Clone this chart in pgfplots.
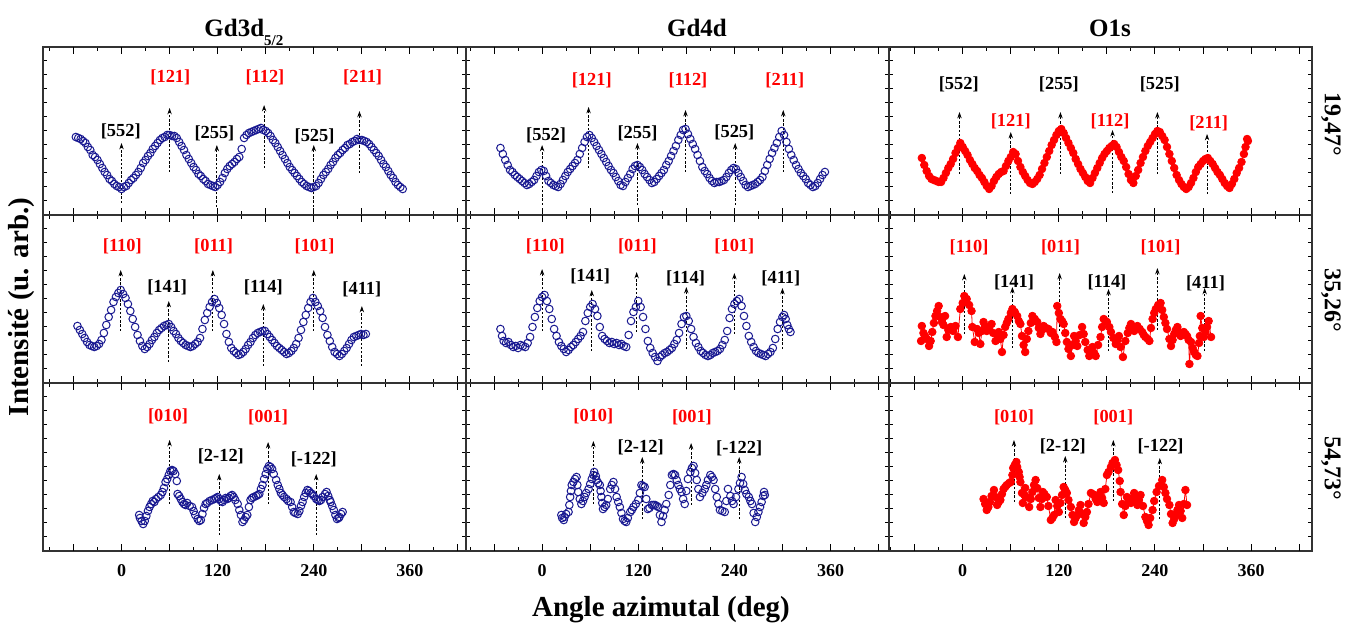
\documentclass[border=0pt]{standalone}
\usepackage{fontspec}
\setmainfont{Liberation Serif}
\usepackage{pgfplots}
\pgfplotsset{compat=1.18}
\usepackage{pgfplotstable}
\usetikzlibrary{arrows.meta}

\definecolor{bluemk}{RGB}{25,25,145}
\definecolor{redmk}{RGB}{255,0,0}

% ---------------- data (angle in deg, intensity in arbitrary units) -------------
\pgfplotstableread{
x y
-57 78
-54 77
-51 76
-48 74
-45 72
-42 68
-39 65
-36 60
-33 58
-30 55
-27 51
-24 47
-21 43
-18 40
-15 36
-12 34
-9 31
-6 29
-3 28
0 26
3 28
6 29
9 32
12 35
15 37
18 40
21 43
24 47
27 52
30 55
33 59
36 62
39 66
42 69
45 72
48 75
51 77
54 78
57 80
60 80
63 79
66 79
69 77
72 73
75 69
78 65
81 60
84 56
87 52
90 48
93 45
96 41
99 39
102 36
105 34
108 31
111 30
114 29
117 28
120 30
123 33
126 37
129 42
132 46
135 49
138 51
141 53
144 56
147 58
150 66
153 77
156 80
159 82
162 83
165 84
168 85
171 86
174 87
177 85
180 84
183 82
186 79
189 75
192 72
195 68
198 64
201 60
204 56
207 52
210 48
213 45
216 42
219 39
222 36
225 33
228 31
231 29
234 28
237 27
240 28
243 29
246 32
249 36
252 40
255 43
258 46
261 50
264 53
267 57
270 60
273 62
276 65
279 67
282 70
285 71
288 73
291 74
294 76
297 75
300 75
303 74
306 73
309 71
312 68
315 65
318 62
321 59
324 55
327 51
330 48
333 44
336 40
339 37
342 33
345 30
348 28
351 26
}\tAa

\pgfplotstableread{
x y
-52 67
-49 61
-46 55
-43 50
-40 45
-37 43
-34 40
-31 38
-28 36
-25 34
-22 32
-19 30
-16 31
-13 33
-10 35
-7 39
-4 43
-1 45
2 44
5 39
8 34
11 32
14 30
17 29
20 28
23 31
26 35
29 39
32 43
35 46
38 49
41 52
44 55
47 61
50 67
53 73
56 78
59 80
62 77
65 73
68 69
71 65
74 61
77 57
80 53
83 49
86 45
89 42
92 38
95 34
98 30
101 29
104 33
107 37
110 41
113 46
116 49
119 50
122 48
125 45
128 41
131 38
134 35
137 32
140 33
143 36
146 39
149 42
152 45
155 50
158 54
161 59
164 64
167 69
170 75
173 80
176 85
179 86
182 81
185 76
188 71
191 66
194 60
197 54
200 48
203 44
206 41
209 37
212 34
215 32
218 33
221 33
224 34
227 35
230 38
233 42
236 45
239 47
242 46
245 42
248 38
251 34
254 30
257 28
260 29
263 30
266 31
269 33
272 35
275 38
278 44
281 50
284 56
287 62
290 67
293 72
296 78
299 84
302 80
305 73
308 66
311 60
314 55
317 50
320 46
323 42
326 39
329 36
332 32
335 30
338 28
341 29
344 32
347 36
350 40
353 43
}\tBa

\pgfplotstableread{
x y
-51 57
-48 50
-45 44
-42 39
-39 36
-36 35
-33 34
-30 33
-27 33
-24 37
-21 42
-18 47
-15 51
-12 56
-9 62
-6 67
-3 72
0 68
3 64
6 60
9 55
12 51
15 47
18 44
21 40
24 37
27 33
30 29
33 26
36 29
39 34
42 38
45 41
48 43
51 44
54 49
57 54
60 58
63 63
66 61
69 54
72 48
75 43
78 39
81 35
84 32
87 31
90 33
93 36
96 40
99 46
102 52
105 58
108 64
111 70
114 75
117 80
120 84
123 86
126 82
129 77
132 72
135 67
138 62
141 56
144 51
147 46
150 42
153 38
156 34
159 32
162 37
165 42
168 47
171 52
174 57
177 61
180 64
183 67
186 69
189 71
192 68
195 63
198 58
201 54
204 48
207 41
210 35
213 32
216 39
219 45
222 52
225 58
228 64
231 69
234 73
237 77
240 81
243 84
246 83
249 79
252 75
255 68
258 61
261 54
264 47
267 40
270 35
273 31
276 28
279 26
282 28
285 32
288 37
291 43
294 48
297 51
300 54
303 56
306 57
309 54
312 51
315 47
318 43
321 40
324 36
327 32
330 29
333 27
336 31
339 36
342 42
345 47
348 53
351 61
353 68
355 76
356 74
}\tCa

\pgfplotstableread{
x y
-55 57
-52 53
-49 49
-46 45
-43 41
-40 38
-37 37
-34 36
-31 37
-28 39
-25 43
-22 50
-19 58
-16 66
-13 73
-10 81
-7 86
-4 90
-1 93
2 89
5 85
8 79
11 72
14 64
17 56
20 48
23 42
26 37
29 34
32 36
35 39
38 43
41 46
44 50
47 53
50 55
53 57
56 58
59 59
62 56
65 52
68 49
71 45
74 42
77 40
80 38
83 37
86 36
89 37
92 39
95 41
98 45
101 54
104 63
107 70
110 76
113 81
116 84
119 80
122 75
125 68
128 59
131 49
134 41
137 35
140 32
143 30
146 28
149 29
152 31
155 34
158 38
161 41
164 45
167 48
170 50
173 51
176 52
179 52
182 49
185 46
188 43
191 40
194 37
197 35
200 33
203 31
206 29
209 30
212 32
215 35
218 39
221 45
224 53
227 61
230 68
233 75
236 81
239 85
242 81
245 77
248 72
251 65
254 56
257 48
260 42
263 36
266 31
269 29
272 27
275 29
278 32
281 35
284 39
287 43
290 46
293 47
296 48
299 49
302 48
305 49
}\tAb

\pgfplotstableread{
x y
-52 54
-50 47
-48 42
-45 40
-42 41
-39 38
-36 36
-33 37
-30 35
-27 38
-24 37
-21 36
-18 40
-15 46
-12 56
-9 66
-6 75
-3 82
0 86
3 88
6 82
9 74
12 64
15 54
18 47
21 41
24 37
27 34
30 31
33 33
36 36
39 38
42 41
45 44
48 47
51 51
54 62
57 70
60 76
63 79
66 74
69 67
72 56
75 47
78 44
81 42
84 40
87 41
90 39
93 40
96 38
99 39
102 37
105 36
108 48
111 62
114 71
117 76
120 82
123 76
126 66
129 54
132 42
135 35
138 30
141 26
144 22
147 26
150 28
153 30
156 31
159 33
162 35
165 39
168 43
171 50
174 59
177 66
180 67
183 62
186 54
189 46
192 40
195 36
198 32
201 30
204 28
207 27
210 28
213 30
216 31
219 32
222 34
225 38
228 43
231 52
234 65
237 74
240 79
243 82
246 84
249 77
252 67
255 57
258 47
261 41
264 36
267 32
270 30
273 29
276 28
279 27
282 29
285 31
288 35
291 44
294 54
297 61
300 66
302 68
304 64
306 58
308 54
310 51
}\tBb

\pgfplotstableread{
x y
-52 42
-51 57
-49 50
-47 47
-45 44
-42 37
-40 42
-38 51
-36 60
-34 67
-32 72
-30 77
-28 66
-26 61
-24 58
-22 67
-20 46
-18 53
-15 56
-12 52
-9 57
-6 46
-3 74
0 80
2 87
5 84
8 78
11 72
12 56
15 41
18 54
20 50
22 39
24 52
26 61
28 57
30 52
33 55
36 59
38 50
41 42
43 48
45 51
47 44
49 31
51 48
53 56
55 60
57 64
60 70
62 74
65 71
68 67
70 62
72 59
74 47
76 38
78 31
80 44
82 52
85 60
87 67
90 64
93 61
95 55
97 49
99 53
101 57
104 55
107 54
110 50
112 51
115 46
117 41
118 77
120 70
122 64
124 62
126 59
128 50
130 41
132 34
135 27
137 38
139 47
141 42
143 37
146 48
149 56
151 49
153 41
156 33
158 27
160 34
162 36
164 30
166 27
169 38
172 46
174 56
176 64
178 62
180 61
183 56
185 51
188 45
191 39
193 43
195 47
197 36
200 26
203 42
206 50
208 55
210 59
212 55
214 52
216 55
218 57
221 54
224 51
226 48
228 46
231 44
233 42
235 55
237 64
239 70
241 74
244 78
247 80
249 73
251 66
253 60
255 54
258 44
260 37
262 43
264 49
266 53
268 56
270 51
272 47
274 49
276 51
278 49
280 47
282 43
283 19
285 41
287 35
289 31
291 28
293 27
295 40
296 47
297 67
299 55
301 46
303 51
305 56
307 62
310 46
}\tCb

\pgfplotstableread{
x y
22 36
23 33
25 30
27 27
29 30
31 35
33 40
35 44
37 47
39 50
41 49
43 52
46 54
49 56
51 59
53 63
55 69
57 72
59 76
61 80
63 81
65 80
67 77
69 70
70 57
72 55
74 52
76 49
78 47
80 46
82 48
85 45
88 44
90 40
92 36
95 32
97 30
99 31
101 37
103 43
105 47
107 48
110 50
113 51
116 52
118 53
120 54
122 52
124 50
126 49
128 51
130 53
132 52
134 53
136 55
138 56
140 54
142 51
145 47
147 41
149 36
151 29
153 31
155 34
157 36
159 44
161 51
163 53
165 54
168 55
170 56
172 57
174 62
176 66
178 72
180 77
182 82
184 85
186 84
188 82
190 77
193 71
195 66
197 62
199 58
201 56
203 54
206 52
208 50
211 49
213 44
215 39
217 38
220 37
222 40
224 45
226 49
228 54
230 58
232 61
234 60
236 58
238 57
240 55
243 52
245 51
247 50
249 51
251 54
254 57
256 59
258 55
260 51
261 49
263 45
265 41
267 36
269 32
271 33
272 34
274 37
276 39
}\tAc

\pgfplotstableread{
x y
24 36
25 33
27 31
28 34
30 37
33 39
34 46
35 54
36 60
37 66
39 69
41 72
43 74
44 66
45 59
47 52
49 47
51 50
53 54
55 58
58 62
60 67
62 72
64 76
65 79
67 75
68 71
70 68
72 66
73 60
74 54
75 48
76 42
78 44
80 46
82 52
85 62
87 66
89 69
91 62
93 54
95 49
97 44
99 38
101 32
103 30
105 29
107 33
110 39
112 41
114 44
117 47
120 51
122 58
124 66
126 65
128 64
130 52
132 42
134 43
137 46
139 46
141 46
143 45
145 44
147 36
149 29
151 35
153 41
155 47
158 56
160 66
162 76
164 77
166 76
168 71
170 66
172 62
174 59
176 52
178 47
180 60
182 72
185 79
187 83
189 85
191 78
193 71
195 62
197 54
200 58
203 62
205 66
207 71
210 76
212 74
214 71
216 62
218 54
220 47
222 41
225 40
228 39
230 50
232 62
235 55
237 50
239 47
242 54
245 62
247 68
249 74
251 67
253 61
255 57
258 54
260 50
262 47
264 38
266 29
268 34
270 39
272 44
274 49
276 55
277 59
278 56
}\tBc

\pgfplotstableread{
x y
26 52
28 47
30 41
32 44
34 49
36 55
39 61
41 54
43 46
45 49
47 51
49 57
51 62
53 64
55 66
58 68
60 69
62 76
63 83
65 86
67 89
68 84
70 79
71 74
72 69
74 58
75 48
77 56
78 63
80 54
83 44
85 52
87 59
89 66
91 71
93 63
95 53
97 44
99 52
100 59
102 57
105 54
107 45
110 31
112 33
114 36
116 51
118 45
120 39
122 48
124 56
126 64
128 61
130 58
132 51
135 44
137 36
139 29
141 33
143 36
145 41
147 46
149 37
151 28
153 34
155 39
157 47
160 58
162 57
164 56
166 52
168 49
170 54
172 59
174 53
176 48
178 62
180 76
182 79
185 84
187 88
190 91
192 86
194 81
196 70
197 59
199 47
201 36
203 45
205 54
207 51
210 48
212 53
214 58
216 52
218 46
220 51
222 56
225 45
228 34
230 30
232 26
234 33
237 41
239 50
242 59
245 65
249 71
251 64
253 58
255 52
258 46
260 37
262 28
264 32
266 36
268 41
270 46
272 40
274 33
276 47
278 61
280 46
}\tCc

\pgfplotsset{
 panel/.style={
  scale only axis, width=211.5pt, height=84pt,
  anchor=south west,
  ymin=0, ymax=168,
  ytick={14,28,...,154}, yticklabels={},
  xtick={-90,-30,...,390}, xticklabels={},
  extra x ticks={-60,0,...,420}, extra x tick labels={},
  extra x tick style={major tick length=3.5pt},
  tick align=inside,
  xtick pos=both, ytick pos=both,
  major tick length=1.8pt,
  tick style={black, line width=0.5pt},
  axis line style={line width=0.6pt, black!80},
  clip=false,
  /pgf/number format/assume math mode=true,
  xticklabel style={font=\bfseries\fontsize{9}{10}\selectfont, yshift=-3pt},
 },
 bottomrow/.style={extra x tick labels={,0,,120,,240,,360,}},
 bluep/.style={only marks, mark=o, mark size=1.9pt, color=bluemk, line width=0.5pt},
 redp/.style={mark=*, mark size=1.9pt, color=redmk, line width=0.4pt},
}
\tikzset{
 arr/.style={-{Stealth[length=3.2pt,width=2.2pt]}, line width=0.45pt, dash pattern=on 1.2pt off 0.9pt, black},
 lab/.style={font=\bfseries\fontsize{9.2}{10}\selectfont, inner sep=0pt},
}
\newcommand{\arw}[3]{\draw[arr] (axis cs:#1,#2) -- (axis cs:#1,#3);}
\newcommand{\lbk}[3]{\node[lab, text=black] at (axis cs:#1,#2) {#3};}
\newcommand{\lbr}[3]{\node[lab, text=redmk] at (axis cs:#1,#2) {#3};}

\begin{document}
\begin{tikzpicture}
\path[use as bounding box] (0,0) rectangle (677.5pt,-312pt);

% ---------------- row 1 (19,47) ----------------
\begin{axis}[panel, at={(21.5pt,-107.5pt)}, xmin=-98, xmax=430]
\addplot[bluep] table[x=x,y=y] {\tAa};
\arw{0}{12}{72} \lbk{-1}{84}{[552]}
\arw{60}{43}{107} \lbr{61}{138}{[121]}
\arw{119}{8}{70} \lbk{116}{82}{[255]}
\arw{178}{47}{110} \lbr{179}{138}{[112]}
\arw{240}{8}{70} \lbk{241}{79}{[525]}
\arw{297}{42}{104} \lbr{301}{138}{[211]}
\end{axis}

\begin{axis}[panel, at={(233pt,-107.5pt)}, xmin=-95, xmax=433]
\addplot[bluep] table[x=x,y=y] {\tBa};
\arw{0}{10}{70} \lbk{5}{80}{[552]}
\arw{58}{47}{108} \lbr{62}{135}{[121]}
\arw{119}{10}{72} \lbk{119}{82}{[255]}
\arw{179}{43}{105} \lbr{182}{135}{[112]}
\arw{241}{10}{72} \lbk{240}{83}{[525]}
\arw{301}{43}{105} \lbr{303}{135}{[211]}
\end{axis}

\begin{axis}[panel, at={(444.5pt,-107.5pt)}, xmin=-92, xmax=436]
\addplot[redp] table[x=x,y=y] {\tCa};
\arw{-4}{41}{103} \lbk{-5}{131}{[552]}
\arw{60}{21}{83} \lbr{60}{94}{[121]}
\arw{122}{41}{103} \lbk{120}{131}{[255]}
\arw{187}{22}{85} \lbr{184}{94}{[112]}
\arw{243}{41}{103} \lbk{246}{131}{[525]}
\arw{305}{21}{81} \lbr{307}{92}{[211]}
\end{axis}

% ---------------- row 2 (35,26) ----------------
\begin{axis}[panel, at={(21.5pt,-191.5pt)}, xmin=-98, xmax=430]
\addplot[bluep] table[x=x,y=y] {\tAb};
\arw{-1}{52}{113} \lbr{1}{137}{[110]}
\arw{59}{21}{82} \lbk{57}{96}{[141]}
\arw{114}{52}{113} \lbr{115}{137}{[011]}
\arw{177}{17}{79} \lbk{177}{96}{[114]}
\arw{240}{52}{113} \lbr{241}{137}{[101]}
\arw{300}{17}{77} \lbk{300}{94}{[411]}
\end{axis}

\begin{axis}[panel, at={(233pt,-191.5pt)}, xmin=-95, xmax=433]
\addplot[bluep] table[x=x,y=y] {\tBb};
\arw{0}{52}{114} \lbr{4}{137}{[110]}
\arw{62}{32}{93} \lbk{60}{107}{[141]}
\arw{118}{51}{111} \lbr{119}{137}{[011]}
\arw{180}{34}{96} \lbk{179}{105}{[114]}
\arw{240}{49}{110} \lbr{240}{137}{[101]}
\arw{300}{34}{95} \lbk{298}{105}{[411]}
\end{axis}

\begin{axis}[panel, at={(444.5pt,-191.5pt)}, xmin=-92, xmax=436]
\addplot[redp] table[x=x,y=y] {\tCb};
\arw{2}{49}{109} \lbr{8}{136}{[110]}
\arw{62}{35}{96} \lbk{64}{101}{[141]}
\arw{121}{52}{110} \lbr{122}{136}{[011]}
\arw{182}{32}{94} \lbk{180}{101}{[114]}
\arw{243}{53}{115} \lbr{247}{136}{[101]}
\arw{302}{32}{95} \lbk{303}{100}{[411]}
\end{axis}

% ---------------- row 3 (54,73) ----------------
\begin{axis}[panel, bottomrow, at={(21.5pt,-275.5pt)}, xmin=-98, xmax=430]
\addplot[bluep] table[x=x,y=y] {\tAc};
\arw{60}{47}{111} \lbr{58}{135}{[010]}
\arw{122}{16}{77} \lbk{124}{95}{[2-12]}
\arw{183}{47}{109} \lbr{183}{134}{[001]}
\arw{243}{16}{77} \lbk{240}{92}{[-122]}
\end{axis}

\begin{axis}[panel, bottomrow, at={(233pt,-275.5pt)}, xmin=-95, xmax=433]
\addplot[bluep] table[x=x,y=y] {\tBc};
\arw{64}{47}{110} \lbr{64}{135}{[010]}
\arw{125}{32}{94} \lbk{123}{104}{[2-12]}
\arw{186}{46}{108} \lbr{187}{134}{[001]}
\arw{246}{32}{94} \lbk{246}{103}{[-122]}
\end{axis}

\begin{axis}[panel, bottomrow, at={(444.5pt,-275.5pt)}, xmin=-92, xmax=436]
\addplot[redp] table[x=x,y=y] {\tCc};
\arw{64}{49}{111} \lbr{64}{134}{[010]}
\arw{128}{33}{95} \lbk{125}{105}{[2-12]}
\arw{188}{50}{111} \lbr{188}{134}{[001]}
\arw{246}{32}{93} \lbk{247}{105}{[-122]}
\end{axis}

% ---------------- titles and labels ----------------
\node[font=\bfseries\fontsize{12.5}{14}\selectfont, anchor=base west, inner sep=0pt] at (102pt,-18.5pt) {Gd3d\raisebox{-4.5pt}{\fontsize{7.5}{8}\selectfont 5/2}};
\node[font=\bfseries\fontsize{12.5}{14}\selectfont, anchor=base, inner sep=0pt] at (348.5pt,-18.5pt) {Gd4d};
\node[font=\bfseries\fontsize{12.5}{14}\selectfont, anchor=base, inner sep=0pt] at (555pt,-18.5pt) {O1s};

\node[font=\bfseries\fontsize{12}{14}\selectfont, rotate=-90, inner sep=0pt] at (665.5pt,-62pt) {19,47°};
\node[font=\bfseries\fontsize{12}{14}\selectfont, rotate=-90, inner sep=0pt] at (665.5pt,-150pt) {35,26°};
\node[font=\bfseries\fontsize{12}{14}\selectfont, rotate=-90, inner sep=0pt] at (665.5pt,-234pt) {54,73°};

\node[font=\bfseries\fontsize{14.5}{16}\selectfont, rotate=90, inner sep=0pt] at (11pt,-153.5pt) {Intensité (u. arb.)};
\node[font=\bfseries\fontsize{14.5}{16}\selectfont, inner sep=0pt] at (330.5pt,-305pt) {Angle azimutal (deg)};
\end{tikzpicture}
\end{document}
